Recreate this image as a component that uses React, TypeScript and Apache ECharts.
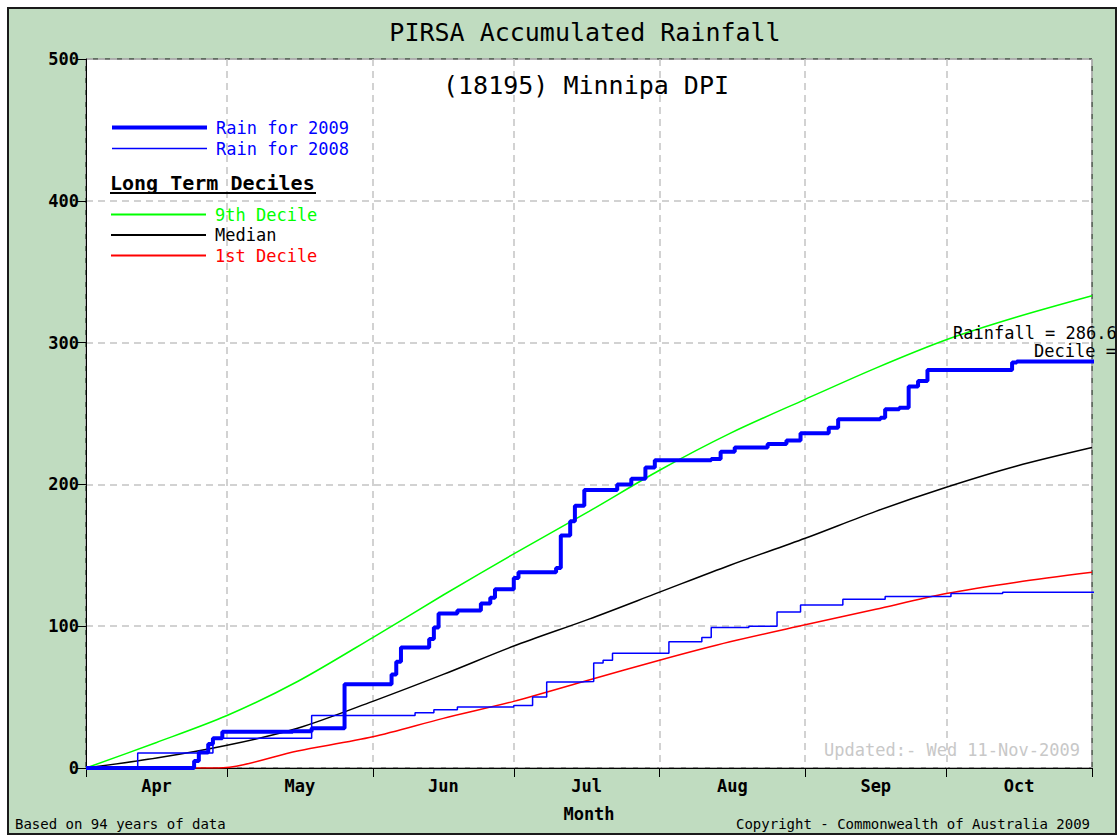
import React, { useEffect, useRef } from 'react';
import * as echarts from 'echarts';

// ---- data ----
const months = ['Apr', 'May', 'Jun', 'Jul', 'Aug', 'Sep', 'Oct'];
const monthDays = [30, 31, 30, 31, 31, 30, 31];

// [day since 1 Apr, accumulated rainfall mm]
const rain2009 = [
  [0, 0], [22, 0], [23, 5], [24, 11], [26, 17], [27, 21], [29, 25.5], [44, 26], [48, 28],
  [55, 59], [64, 59], [65, 66], [66, 75], [67, 85], [73, 91], [74, 99], [75, 109], [79, 111],
  [84, 116], [86, 120], [87, 126], [91, 134], [92, 138], [100, 141], [101, 164], [103, 174],
  [104, 185], [106, 196], [113, 200], [116, 204], [119, 212], [121, 217], [133, 218], [135, 223],
  [138, 226], [145, 228.5], [149, 231], [152, 236], [158, 240], [160, 246], [169, 247], [170, 253],
  [173, 254], [175, 269], [177, 273], [179, 280.6], [197, 286], [198, 286.6], [224, 286.6],
];
const rain2008 = [
  [0, 0], [10, 0], [11, 10.5], [27, 21], [48, 37], [70, 39], [74, 41], [79, 43], [91, 44],
  [95, 50], [98, 60.7], [105, 61], [108, 74], [110, 76], [112, 81], [120, 81], [124, 89],
  [131, 92], [133, 99], [141, 100], [147, 110], [152, 115], [161, 119], [170, 121], [184, 123],
  [195, 124], [216, 124],
];
const decile9 = [
  [0, 0], [15, 18], [30, 37], [45, 61], [61, 92], [76, 122], [91, 151], [107, 181], [122, 210],
  [137, 236], [153, 260], [168, 282], [183, 302], [198, 318], [214, 333],
];
const median = [
  [0, 0], [15, 7], [30, 16], [45, 28], [61, 47], [76, 66], [91, 86], [107, 105], [122, 124],
  [137, 143], [153, 162], [168, 181], [183, 198], [198, 213], [214, 226],
];
const decile1 = [
  [0, 0], [28, 0], [45, 12], [61, 22], [76, 35], [91, 47], [107, 62], [122, 76], [137, 89],
  [153, 101], [168, 112], [183, 123], [198, 131], [214, 138],
];

const FONT = '"DejaVu Sans Mono", "Liberation Mono", monospace';

export default function App() {
  const ref = useRef<HTMLDivElement>(null);

  useEffect(() => {
    if (!ref.current) return;
    const chart = echarts.init(ref.current, null, { renderer: 'svg' });

    const monthStarts: number[] = [0];
    monthDays.forEach((d, i) => monthStarts.push(monthStarts[i] + d));
    const monthMids = months.map((_, i) => (monthStarts[i] + monthStarts[i + 1]) / 2);
    const totalDays = monthStarts[monthStarts.length - 1];

    const thin = 1.5;
    const legendCommon = {
      orient: 'vertical', left: 110, padding: 0,
      itemWidth: 95, itemHeight: 14, selectedMode: false,
      itemStyle: { opacity: 0 },
      textStyle: { fontFamily: FONT, fontSize: 17, padding: [0, 0, 0, 4] },
    };

    chart.setOption({
      animation: false,
      backgroundColor: '#ffffff',
      grid: {
        left: 86, right: 27, top: 59, bottom: 68,
        show: true, backgroundColor: '#ffffff', borderColor: '#000000', borderWidth: 1,
      },
      xAxis: {
        type: 'value', min: 0, max: totalDays,
        axisLine: { show: true, lineStyle: { color: '#000', width: 1 } },
        axisTick: { show: true, length: 9, lineStyle: { color: '#000' }, customValues: monthStarts },
        axisLabel: {
          customValues: monthMids,
          formatter: (v: number) => {
            const i = monthMids.findIndex((m) => Math.abs(m - v) < 0.01);
            return i >= 0 ? months[i] : '';
          },
          fontFamily: FONT, fontWeight: 'bold', fontSize: 17, color: '#000', margin: 9,
        },
        splitLine: { show: true, lineStyle: { color: '#c4c4c4', type: [7, 5], width: 1.5 } },
        name: 'Month', nameLocation: 'middle', nameGap: 37,
        nameTextStyle: { fontFamily: FONT, fontWeight: 'bold', fontSize: 17, color: '#000' },
      },
      yAxis: {
        type: 'value', min: 0, max: 500, interval: 100,
        axisLine: { show: true, lineStyle: { color: '#000', width: 1 } },
        axisTick: { show: true, length: 10, lineStyle: { color: '#000' } },
        axisLabel: { fontFamily: FONT, fontWeight: 'bold', fontSize: 17, color: '#000', margin: 7 },
        splitLine: { show: true, lineStyle: { color: '#c4c4c4', type: [7, 5], width: 1.5 } },
      },
      legend: [
        {
          ...legendCommon,
          top: 119, itemGap: 4,
          data: [
            { name: 'Rain for 2009', textStyle: { color: '#0000ff' }, lineStyle: { width: 4, color: '#0000ff' } },
            { name: 'Rain for 2008', textStyle: { color: '#0000ff' }, lineStyle: { width: 1.5, color: '#0000ff' } },
          ],
        },
        {
          ...legendCommon,
          top: 206, itemGap: 3.5,
          data: [
            { name: '9th Decile', textStyle: { color: '#00ff00' } },
            { name: 'Median', textStyle: { color: '#000000' } },
            { name: '1st Decile', textStyle: { color: '#ff0000' } },
          ],
        },
      ],
      graphic: [
        {
          type: 'rect', z: -10, silent: true,
          shape: { x: 8, y: 8, width: 1108, height: 826 },
          style: { fill: '#c0dcc0', stroke: '#1a1a1a', lineWidth: 2 },
        },
        {
          type: 'text', x: 585, y: 32, z: 50,
          style: { text: 'PIRSA Accumulated Rainfall', fontFamily: FONT, fontSize: 25, fill: '#000', align: 'center', verticalAlign: 'middle' },
        },
        {
          type: 'text', x: 586, y: 85, z: 50,
          style: { text: '(18195) Minnipa DPI', fontFamily: FONT, fontSize: 25, fill: '#000', align: 'center', verticalAlign: 'middle' },
        },
        {
          type: 'text', x: 110, y: 183, z: 50,
          style: { text: 'Long Term Deciles', fontFamily: FONT, fontSize: 20, fontWeight: 'bold', fill: '#000', align: 'left', verticalAlign: 'middle' },
        },
        {
          type: 'line', z: 50,
          shape: { x1: 110, y1: 193, x2: 316, y2: 193 },
          style: { stroke: '#000', lineWidth: 2 },
        },
        {
          type: 'text', x: 952, y: 750, z: 50,
          style: { text: 'Updated:- Wed 11-Nov-2009', fontFamily: FONT, fontSize: 17, fill: '#c8c8c8', align: 'center', verticalAlign: 'middle' },
        },
        {
          type: 'text', x: 953, y: 333, z: 50,
          style: { text: 'Rainfall = 286.6', fontFamily: FONT, fontSize: 17, fill: '#000', align: 'left', verticalAlign: 'middle' },
        },
        {
          type: 'text', x: 1034, y: 351, z: 50,
          style: { text: 'Decile =', fontFamily: FONT, fontSize: 17, fill: '#000', align: 'left', verticalAlign: 'middle' },
        },
        {
          type: 'text', x: 15, y: 824, z: 50,
          style: { text: 'Based on 94 years of data', fontFamily: FONT, fontSize: 14, fill: '#000', align: 'left', verticalAlign: 'middle' },
        },
        {
          type: 'text', x: 1090, y: 824, z: 50,
          style: { text: 'Copyright - Commonwealth of Australia 2009', fontFamily: FONT, fontSize: 14, fill: '#000', align: 'right', verticalAlign: 'middle' },
        },
      ],
      series: [
        {
          name: '9th Decile', type: 'line', data: decile9, smooth: 0.3,
          symbol: 'none', showSymbol: false, color: '#00ff00', lineStyle: { color: '#00ff00', width: thin },
        },
        {
          name: 'Median', type: 'line', data: median, smooth: 0.3,
          symbol: 'none', showSymbol: false, color: '#000000', lineStyle: { color: '#000000', width: thin },
        },
        {
          name: '1st Decile', type: 'line', data: decile1, smooth: 0.3,
          symbol: 'none', showSymbol: false, color: '#ff0000', lineStyle: { color: '#ff0000', width: thin },
        },
        {
          name: 'Rain for 2008', type: 'line', data: rain2008, step: 'end', clip: false,
          symbol: 'none', showSymbol: false, color: '#0000ff', lineStyle: { color: '#0000ff', width: thin },
        },
        {
          name: 'Rain for 2009', type: 'line', data: rain2009, step: 'end', clip: false,
          symbol: 'none', showSymbol: false, color: '#0000ff', lineStyle: { color: '#0000ff', width: 4 },
        },
      ],
    });

    return () => chart.dispose();
  }, []);

  return (
    <div
      ref={ref}
      style={{ position: 'absolute', left: 0, top: 0, width: 1119, height: 836 }}
    />
  );
}
